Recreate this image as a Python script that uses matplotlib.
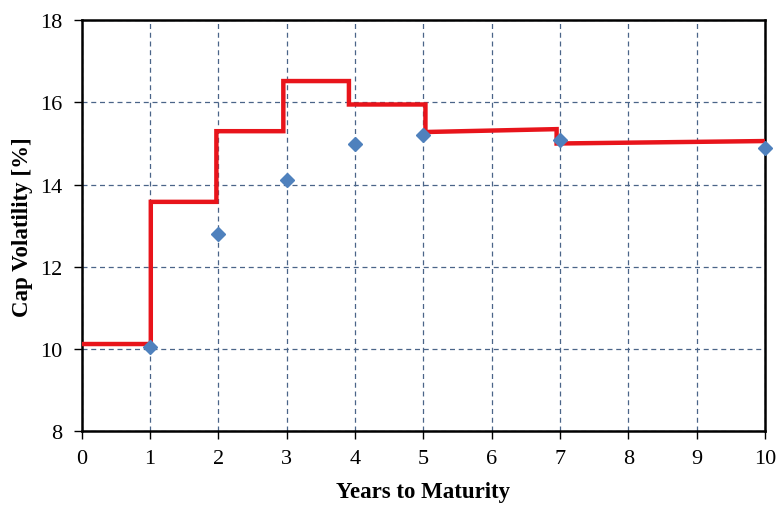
import numpy as np
import matplotlib.pyplot as plt

# market cap vols (diamonds)
mkt_years = [1, 2, 3, 4, 5, 7, 10]
mkt_vols = [10.05, 12.8, 14.1, 14.98, 15.2, 15.08, 14.9]

# model step curve: segment edges and start/end value per segment
step_edges = [0, 1.01, 1.97, 2.95, 3.91, 5.03, 6.95, 10]
step_start = [10.12, 13.58, 15.3, 16.52, 15.95, 15.28, 15.0]
step_end = [10.12, 13.58, 15.3, 16.52, 15.95, 15.35, 15.06]

xs, ys = [], []
for i in range(len(step_start)):
    xs += [step_edges[i], step_edges[i + 1]]
    ys += [step_start[i], step_end[i]]

plt.rcParams['font.family'] = ['Liberation Serif', 'DejaVu Serif']

fig = plt.figure(figsize=(7.79, 5.06), dpi=100)
ax = fig.add_axes([0.105, 0.146, 0.877, 0.812])

ax.plot(xs, ys, color='#e8141b', lw=3.2, solid_joinstyle='miter', zorder=3)
ax.plot(mkt_years, mkt_vols, ls='none', marker='D', ms=7.5, color='#4f81bd',
        zorder=4, clip_on=False)

ax.set_xlim(0, 10)
ax.set_ylim(8, 18)
ax.set_xticks(range(0, 11))
ax.set_yticks(range(8, 19, 2))
ax.grid(True, color='#4a6488', lw=0.9, ls=(0, (4, 3)))
ax.set_axisbelow(True)

for s in ax.spines.values():
    s.set_linewidth(1.8)
    s.set_color('black')
ax.tick_params(direction='out', length=6, width=1, labelsize=16)
ax.tick_params(axis='y', pad=8)
ax.tick_params(axis='x', pad=7)

ax.set_xlabel('Years to Maturity', fontsize=16.5, fontweight='bold', labelpad=9)
ax.set_ylabel('Cap Volatility [%]', fontsize=16.5, fontweight='bold', labelpad=5)

fig.savefig('out.png', dpi=100)
